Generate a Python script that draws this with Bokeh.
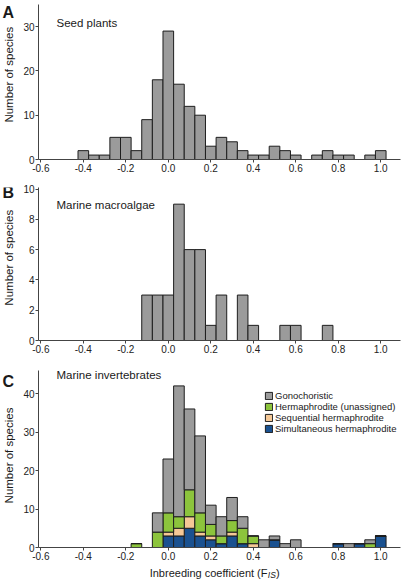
import math
from bokeh.plotting import figure
from bokeh.layouts import column, row
from bokeh.models import Range1d, FixedTicker, Label, Legend, LegendItem, ColumnDataSource
from bokeh.core.properties import value
from bokeh.embed import file_html
from bokeh.resources import INLINE

# ---------------- data ----------------
x_ticks = [-0.6, -0.4, -0.2, 0.0, 0.2, 0.4, 0.6, 0.8, 1.0]
x_tick_labels = ["-0.6", "-0.4", "-0.2", "0.0", "0.2", "0.4", "0.6", "0.8", "1.0"]
bin_width = 0.05

# A: Seed plants (bin centres, counts)
a_bins = [-0.4, -0.35, -0.3, -0.25, -0.2, -0.15, -0.1, -0.05, 0.0, 0.05, 0.1, 0.15,
          0.2, 0.25, 0.3, 0.35, 0.4, 0.45, 0.5, 0.55, 0.6, 0.7, 0.75, 0.8, 0.85, 0.95, 1.0]
a_counts = [2, 1, 1, 5, 5, 2, 9, 18, 29, 17, 12, 10,
            3, 5, 4, 2, 1, 1, 3, 2, 1, 1, 2, 1, 1, 1, 2]
a_yticks = [0, 10, 20, 30]

# B: Marine macroalgae
b_bins = [-0.1, -0.05, 0.0, 0.05, 0.1, 0.15, 0.2, 0.25, 0.35, 0.4, 0.55, 0.6, 0.75]
b_counts = [3, 3, 3, 9, 6, 6, 1, 3, 3, 1, 1, 1, 1]
b_yticks = [0, 2, 4, 6, 8, 10]

# C: Marine invertebrates (stacked by mating system)
c_bins = [-0.15, -0.05, 0.0, 0.05, 0.1, 0.15, 0.2, 0.25, 0.3, 0.35, 0.4, 0.45,
          0.5, 0.55, 0.6, 0.8, 0.85, 0.9, 0.95, 1.0]
c_simultaneous = [0, 0, 3, 3, 5, 3, 2, 1, 3, 1, 0, 0, 2, 0, 0, 1, 0, 1, 0, 3]
c_sequential = [0, 0, 1, 2, 3, 1, 1, 0, 1, 0, 1, 0, 0, 0, 0, 0, 0, 0, 0, 0]
c_hermaphrodite = [1, 4, 5, 3, 7, 5, 3, 2, 3, 4, 2, 0, 0, 0, 0, 0, 0, 0, 1, 0]
c_gonochoristic = [0, 5, 14, 34, 21, 20, 5, 5, 6, 3, 0, 2, 1, 1, 2, 0, 1, 0, 1, 0]
c_yticks = [0, 10, 20, 30, 40]
c_series = ["Simultaneous hermaphrodite", "Sequential hermaphrodite",
            "Hermaphrodite (unassigned)", "Gonochoristic"]

panel_letters = ["A", "B", "C"]
panel_titles = ["Seed plants", "Marine macroalgae", "Marine invertebrates"]
y_title = "Number of species"
x_title_parts = ["Inbreeding coefficient (F", "IS", ")"]

# ---------------- style ----------------
FONT = "Liberation Sans"
GRAY = "#9b9b9b"
GREEN = "#8cc43c"
PEACH = "#f5c896"
BLUE = "#1a5190"
EDGE = "#1e1e1e"
AXIS = "#444444"
TXT = "#1a1a1a"
XR = (-0.611, 1.093)
STRIP_W = 20
MAIN_W = 382
LEFT = 15
RIGHT = 2


def strip(width, height):
    """Blank figure whose data coordinates equal canvas pixels (y downwards)."""
    s = figure(width=width, height=height, output_backend="svg", toolbar_location=None,
               x_range=Range1d(0, width), y_range=Range1d(height, 0),
               x_axis_type=None, y_axis_type=None,
               min_border_left=0, min_border_right=0, min_border_top=0, min_border_bottom=0)
    s.outline_line_color = None
    s.grid.visible = False
    s.background_fill_color = "white"
    s.border_fill_color = "white"
    return s


def left_strip(height, letter, letter_y, frame_top, frame_bottom):
    s = strip(STRIP_W, height)
    s.text(x=[2], y=[letter_y], text=[letter], text_font=value(FONT),
           text_font_size=value("16px"), text_font_style="bold", text_color=TXT,
           text_align="left", text_baseline="middle")
    s.text(x=[8.5], y=[(frame_top + frame_bottom) / 2], text=[y_title], angle=math.pi / 2,
           text_font=value(FONT), text_font_size=value("11.5px"), text_color=TXT,
           text_align="center", text_baseline="middle")
    return s


def base_fig(height, top, bottom, ymax, yticks):
    p = figure(width=MAIN_W, height=height, output_backend="svg", toolbar_location=None,
               x_range=Range1d(*XR), y_range=Range1d(0, ymax),
               min_border_left=LEFT, min_border_right=RIGHT,
               min_border_top=top, min_border_bottom=bottom)
    p.outline_line_color = None
    p.grid.visible = False
    p.background_fill_color = "white"
    p.border_fill_color = "white"
    for ax in (p.xaxis[0], p.yaxis[0]):
        ax.axis_line_color = AXIS
        ax.axis_line_width = 1
        ax.major_tick_line_color = AXIS
        ax.major_tick_out = 3
        ax.major_tick_in = 0
        ax.minor_tick_line_color = None
        ax.major_label_text_font = FONT
        ax.major_label_text_font_size = "10px"
        ax.major_label_text_color = "#222222"
        ax.major_label_standoff = 1
    p.xaxis.ticker = FixedTicker(ticks=x_ticks)
    p.xaxis.major_label_overrides = {t: l for t, l in zip(x_ticks, x_tick_labels)}
    p.yaxis.ticker = FixedTicker(ticks=yticks)
    return p


def panel_title(p, title, frame_h, dy):
    p.add_layout(Label(x=18, y=frame_h - dy, x_units="screen", y_units="screen",
                       text=title, text_font=FONT, text_font_size="11.5px",
                       text_color=TXT, text_baseline="middle", text_align="left"))


# ---------------- panel A: canvas 0..180, frame 4..159 ----------------
pA = base_fig(180, 4, 21, 35, a_yticks)
pA.vbar(x=a_bins, top=a_counts, width=bin_width, fill_color=GRAY,
        line_color=EDGE, line_width=1)
panel_title(pA, panel_titles[0], 155, 18)
lA = left_strip(180, panel_letters[0], 9.5, 4, 159)

# ---------------- panel B: canvas 180..362, frame 187..340 ----------------
pB = base_fig(182, 7, 22, 10.1, b_yticks)
pB.vbar(x=b_bins, top=b_counts, width=bin_width, fill_color=GRAY,
        line_color=EDGE, line_width=1)
panel_title(pB, panel_titles[1], 153, 17)
lB = left_strip(182, panel_letters[1], 6, 7, 160)

# ---------------- panel C: canvas 362..563, frame 370..547 ----------------
pC = base_fig(201, 8, 16, 46, c_yticks)
src = ColumnDataSource(dict(x=c_bins,
                            **{c_series[0]: c_simultaneous,
                               c_series[1]: c_sequential,
                               c_series[2]: c_hermaphrodite,
                               c_series[3]: c_gonochoristic}))
rs = pC.vbar_stack(c_series, x="x", width=bin_width, source=src,
                   fill_color=[BLUE, PEACH, GREEN, GRAY],
                   line_color=EDGE, line_width=1)
panel_title(pC, panel_titles[2], 177, 4)
lC = left_strip(201, panel_letters[2], 12, 8, 185)

legend = Legend(items=[LegendItem(label=c_series[i], renderers=[rs[i]]) for i in (3, 2, 1, 0)],
                location=(226, 113), padding=0, margin=0, spacing=0,
                glyph_width=9, glyph_height=9, label_height=9, label_standoff=2,
                label_text_font=FONT, label_text_font_size="9.5px",
                label_text_color=TXT,
                background_fill_alpha=0, border_line_color=None)
pC.add_layout(legend)

# ---------------- x title strip: canvas 563..580 ----------------
xs = strip(402, 17)
xs.text(x=[267], y=[9], text=[x_title_parts[0]], text_font=value(FONT),
        text_font_size=value("11px"), text_color=TXT,
        text_align="right", text_baseline="middle")
xs.text(x=[267.3], y=[11.5], text=[x_title_parts[1]], text_font=value(FONT),
        text_font_size=value("8.5px"), text_font_style="italic", text_color=TXT,
        text_align="left", text_baseline="middle")
xs.text(x=[275.5], y=[9], text=[x_title_parts[2]], text_font=value(FONT),
        text_font_size=value("11px"), text_color=TXT,
        text_align="left", text_baseline="middle")

layout = column(row(lA, pA, spacing=0), row(lB, pB, spacing=0),
                row(lC, pC, spacing=0), xs, spacing=0)
open("out.html", "w").write(file_html(layout, INLINE))
